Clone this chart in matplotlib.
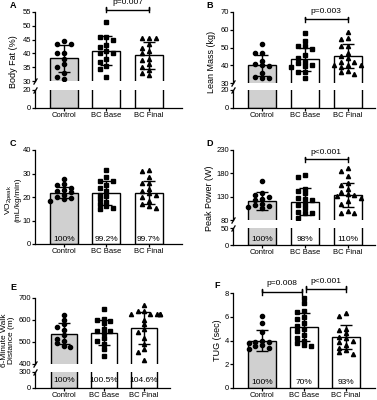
import numpy as np
import matplotlib.pyplot as plt

plt.rcParams['font.family'] = ['Liberation Sans', 'DejaVu Sans']

W, H = 377, 400
groups = ['Control', 'BC Base', 'BC Final']
bar_colors = ['#d0d0d0', 'white', 'white']
markers = ['o', 's', '^']

# A - body fat
fat_means = [38.3, 41.0, 39.3]
fat_sds = [4.9, 5.3, 4.9]
fat_ctrl = [44.5, 43.5, 43.5, 40.0, 40.0, 38.0, 36.0, 35.0, 33.0, 31.5, 30.8]
fat_base = [51.5, 46.0, 46.0, 45.0, 43.0, 42.5, 41.0, 40.0, 40.0, 38.0, 37.0, 35.5, 34.5, 31.3]
fat_final = [45.5, 45.5, 45.5, 43.5, 42.0, 41.0, 40.0, 38.0, 37.5, 36.0, 35.0, 34.0, 33.0, 32.0]

# B - lean mass
lean_means = [40.0, 43.5, 45.2]
lean_sds = [6.0, 6.5, 6.8]
lean_ctrl = [51.8, 47.0, 46.8, 42.5, 40.8, 40.0, 39.5, 35.5, 33.5, 33.0, 32.8]
lean_base = [58.0, 53.5, 51.0, 51.0, 49.0, 46.0, 44.0, 42.0, 41.0, 40.0, 39.5, 39.0, 36.0, 36.0, 33.0]
lean_final = [59.0, 55.5, 55.0, 51.0, 51.0, 47.0, 45.0, 44.0, 42.0, 42.0, 40.0, 40.0, 40.0,
              39.0, 37.0, 36.0, 35.0]

# C - VO2peak
vo2_means = [21.9, 21.7, 21.9]
vo2_sds = [2.4, 4.9, 4.9]
vo2_ctrl = [27.5, 25.5, 25.0, 24.0, 23.0, 22.5, 22.0, 21.0, 20.0, 19.5, 19.0, 18.5]
vo2_base = [31.5, 28.5, 27.0, 27.0, 25.0, 24.0, 22.5, 21.0, 20.5, 19.0, 18.0, 17.0, 16.0, 15.5, 15.0]
vo2_final = [31.5, 31.0, 28.5, 26.0, 26.0, 23.5, 22.5, 21.5, 21.0, 20.0, 18.5, 17.0, 16.0, 15.5]
vo2_pct = ['100%', '99.2%', '99.7%']

# D - peak power
pow_means = [121, 119, 134]
pow_sds = [19, 29, 26]
pow_ctrl = [163, 138, 133, 130, 125, 122, 115, 112, 110, 108, 105]
pow_base = [177, 173, 147, 142, 137, 128, 126, 123, 115, 112, 105, 97, 96, 94, 85]
pow_final = [192, 185, 175, 160, 156, 147, 140, 135, 133, 131, 127, 120, 115, 100, 95, 95]
pow_pct = ['100%', '98%', '110%']

# E - 6 minute walk
walk_means = [537, 543, 563]
walk_sds = [48, 58, 72]
walk_ctrl = [625, 600, 580, 570, 555, 530, 515, 505, 495, 480, 478]
walk_base = [650, 605, 600, 595, 585, 560, 550, 548, 540, 520, 505, 490, 470, 435]
walk_final = [670, 640, 640, 628, 628, 628, 628, 628, 600, 580, 560, 545, 520, 490, 470, 455, 420]
walk_pct = ['100%', '100.5%', '104.6%']

# F - TUG
tug_means = [4.0, 5.15, 4.3]
tug_sds = [0.9, 1.18, 1.0]
tug_ctrl = [6.1, 5.5, 4.7, 4.0, 3.9, 3.9, 3.8, 3.6, 3.5, 3.4, 3.3]
tug_base = [7.6, 7.2, 6.5, 6.4, 6.0, 5.8, 5.5, 5.2, 5.0, 4.8, 4.5, 4.2, 4.0, 3.8, 3.6, 3.5]
tug_final = [6.3, 6.1, 5.0, 4.9, 4.6, 4.3, 4.2, 4.0, 3.9, 3.6, 3.4, 3.2, 3.0, 2.9]
tug_pct = ['100%', '70%', '93%']

fig = plt.figure(figsize=(W / 100, H / 100), dpi=100)


def px_axes(x0, y0, x1, y1):
    return fig.add_axes([x0 / W, 1 - y1 / H, (x1 - x0) / W, (y1 - y0) / H])


def swarm(vals, ystep, xstep=0.16):
    # simple beeswarm: place points from the top, nearest free slot to the centre
    vals = np.asarray(vals, float)
    offs = np.zeros(len(vals))
    placed = []
    slots = [0, -1, 1, -0.5, 0.5, -1.5, 1.5, -2, 2, -2.5, 2.5]
    for i in np.argsort(-vals):
        for k in slots:
            ok = all((k - px) ** 2 + ((vals[i] - py) / ystep) ** 2 >= 1 for px, py in placed)
            if ok:
                break
        placed.append((k, vals[i]))
        offs[i] = k * xstep
    return offs


def style(ax, ylim, yticks):
    ax.set_ylim(*ylim)
    ax.set_yticks(yticks)
    for s in ['top', 'right']:
        ax.spines[s].set_visible(False)
    for s in ['left', 'bottom']:
        ax.spines[s].set_linewidth(0.9)
    ax.tick_params(labelsize=5.5, length=2, width=0.9, pad=0.8)


def draw(axes, means, sds, pts, ystep, xlim):
    x = np.arange(3)
    for ax in axes:
        ax.bar(x, means, width=0.66, color=bar_colors, edgecolor='black', linewidth=1, zorder=1)
        for i in range(3):
            ax.plot(x[i] + swarm(pts[i], ystep), pts[i], linestyle='none', marker=markers[i],
                    markersize=3, color='black', zorder=2)
        ax.errorbar(x, means, yerr=sds, fmt='none', ecolor='black', elinewidth=1,
                    capsize=4.5, capthick=1, zorder=3)
        ax.set_xlim(*xlim)


def finish_x(ax):
    ax.set_xticks(range(3))
    ax.set_xticklabels(groups, fontsize=5.5)


def brk(top, bot):
    top.spines['bottom'].set_visible(False)
    top.tick_params(axis='x', bottom=False, labelbottom=False)
    bot.spines['top'].set_visible(False)
    kw = dict(marker=[(-0.6, -1), (0.6, 1)], markersize=4.5, linestyle='none',
              color='black', mec='black', mew=0.9, clip_on=False)
    top.plot([0], [0], transform=top.transAxes, **kw)
    bot.plot([0], [1], transform=bot.transAxes, **kw)


def bracket(ax, x1, x2, y, h, text):
    ax.plot([x1, x1, x1, x2, x2, x2], [y - h, y + h, y, y, y + h, y - h], color='black',
            linewidth=1, clip_on=False)
    ax.annotate(text, xy=((x1 + x2) / 2, y + h), xytext=(0, 1), textcoords='offset points',
                ha='center', va='bottom', fontsize=6, annotation_clip=False)


def pct(ax, labels, frac):
    for i, t in enumerate(labels):
        ax.text(i, frac, t, transform=ax.get_xaxis_transform(), ha='center', va='center',
                fontsize=6, zorder=4)


def ylab(x, y, text, size=6.5):
    fig.text(x / W, 1 - y / H, text, rotation=90, ha='center', va='center', fontsize=size,
             linespacing=0.95)


def letter(x, y, t):
    fig.text(x / W, 1 - y / H, t, ha='center', va='center', fontsize=6.5, fontweight='bold')


# Panel A
xa = (-0.68, 2.78)
a_top = px_axes(35, 12, 182, 81)
a_bot = px_axes(35, 90, 182, 108)
draw([a_top, a_bot], fat_means, fat_sds, [fat_ctrl, fat_base, fat_final], 1.6, xa)
style(a_top, (30, 55), [30, 35, 40, 45, 50, 55])
style(a_bot, (0, 20), [0, 20])
brk(a_top, a_bot)
finish_x(a_bot)
bracket(a_top, 1, 2, 55.8, 0.9, 'p=0.007')
ylab(14, 62, 'Body Fat (%)')
letter(13, 5, 'A')

# Panel B
xr = (-0.68, 2.64)
b_top = px_axes(233, 12, 375, 83)
b_bot = px_axes(233, 90, 375, 108)
draw([b_top, b_bot], lean_means, lean_sds, [lean_ctrl, lean_base, lean_final], 2.5, xr)
style(b_top, (30, 70), [30, 40, 50, 60, 70])
style(b_bot, (0, 20), [0, 20])
brk(b_top, b_bot)
finish_x(b_bot)
bracket(b_top, 1, 2, 66, 1.4, 'p=0.003')
ylab(212, 62, 'Lean Mass (kg)')
letter(210, 5, 'B')

# Panel C
c_ax = px_axes(35, 150, 182, 244)
draw([c_ax], vo2_means, vo2_sds, [vo2_ctrl, vo2_base, vo2_final], 1.9, xa)
style(c_ax, (0, 40), [0, 10, 20, 30, 40])
finish_x(c_ax)
pct(c_ax, vo2_pct, 0.05)
ylab(13, 200, 'VO$_\\mathregular{2peak}$\n(mL/kg/min)', size=6)
letter(13, 143, 'C')

# Panel D
d_top = px_axes(233, 150, 375, 220)
d_bot = px_axes(233, 228, 375, 245)
draw([d_top, d_bot], pow_means, pow_sds, [pow_ctrl, pow_base, pow_final], 9.5, xr)
style(d_top, (80, 230), [80, 130, 180, 230])
style(d_bot, (0, 50), [0, 50])
brk(d_top, d_bot)
finish_x(d_bot)
pct(d_bot, pow_pct, 0.3)
bracket(d_top, 1, 2, 210, 5, 'p<0.001')
ylab(210, 198, 'Peak Power (W)')
letter(210, 144, 'D')

# Panel E
xe = (-0.72, 2.65)
e_top = px_axes(35, 298, 170, 364)
e_bot = px_axes(35, 372, 170, 388)
draw([e_top, e_bot], walk_means, walk_sds, [walk_ctrl, walk_base, walk_final], 20, xe)
style(e_top, (400, 700), [400, 500, 600, 700])
style(e_bot, (0, 300), [0, 300])
brk(e_top, e_bot)
finish_x(e_bot)
pct(e_bot, walk_pct, 0.5)
ylab(8, 340, '6-Minute Walk\nDistance (m)', size=6)
letter(13, 287, 'E')

# Panel F
xf = (-0.69, 2.69)
f_ax = px_axes(233, 293, 375, 388)
draw([f_ax], tug_means, tug_sds, [tug_ctrl, tug_base, tug_final], 0.38, xf)
style(f_ax, (0, 8), [0, 2, 4, 6, 8])
finish_x(f_ax)
pct(f_ax, tug_pct, 0.06)
bracket(f_ax, 0, 0.96, 8.1, 0.25, 'p=0.008')
bracket(f_ax, 1.04, 2, 8.3, 0.25, 'p<0.001')
ylab(218, 340, 'TUG (sec)')
letter(217, 286, 'F')

fig.savefig('out.png', dpi=100)
